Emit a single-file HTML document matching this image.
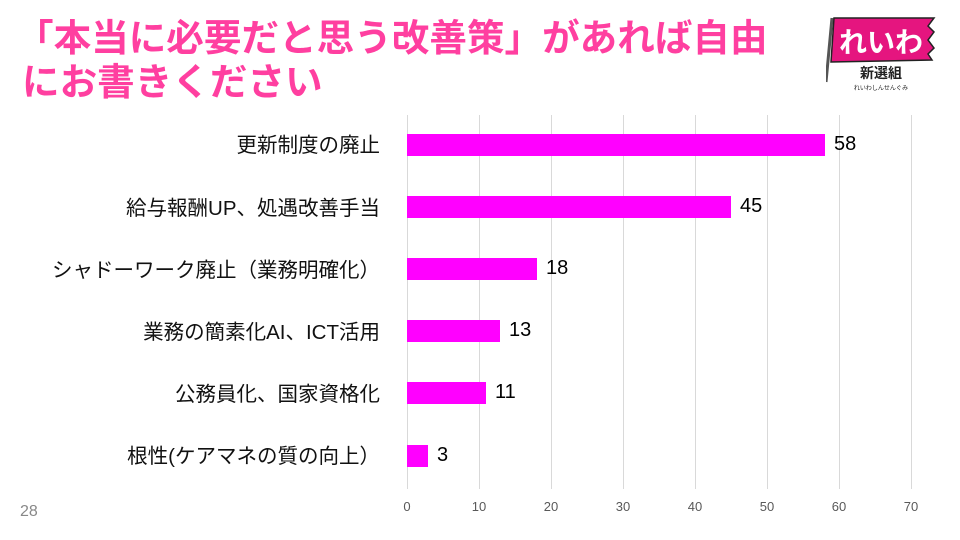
<!DOCTYPE html>
<html><head><meta charset="utf-8"><style>
body{margin:0;width:960px;height:540px;background:#fff;overflow:hidden;position:relative;font-family:"Liberation Sans","Noto Sans CJK JP",sans-serif}
.t{position:absolute;left:22px;color:#ff3fa0;font-weight:bold;font-size:37.6px;line-height:44px;white-space:nowrap}
.lab{position:absolute;right:580px;font-size:20.5px;color:#111;white-space:nowrap}
.bar{position:absolute;left:407px;height:22px;background:#ff00ff}
.v{position:absolute;font-size:20px;color:#000}
.g{position:absolute;top:115px;height:374px;width:1px;background:#d9d9d9}
.tk{position:absolute;top:499px;font-size:13px;color:#595959;width:30px;margin-left:-15px;text-align:center}
</style></head><body>
<div class="t" style="top:16px;left:16px">「本当に必要だと思う改善策」があれば自由</div>
<div class="t" style="top:60px">にお書きください</div>
<svg style="position:absolute;left:826px;top:12px" width="120" height="82">
<line x1="6" y1="6" x2="0" y2="70" stroke="#555" stroke-width="3"/>
<polygon points="8,6 108,6 102,14 108,20 102,28 108,36 102,42 106,48 5,50" fill="#e5157f" stroke="#222" stroke-width="1.5"/>
<text x="55" y="40" font-size="28" font-weight="bold" fill="#fff" text-anchor="middle" font-family="Noto Sans CJK JP">れいわ</text>
<text x="55" y="66" font-size="14" font-weight="bold" fill="#222" text-anchor="middle" font-family="Noto Sans CJK JP">新選組</text>
<text x="55" y="78" font-size="6" fill="#222" text-anchor="middle" font-family="Noto Sans CJK JP">れいわしんせんぐみ</text>
</svg>
<div class="g" style="left:407px"></div><div class="g" style="left:479px"></div><div class="g" style="left:551px"></div><div class="g" style="left:623px"></div><div class="g" style="left:695px"></div><div class="g" style="left:767px"></div><div class="g" style="left:839px"></div><div class="g" style="left:911px"></div>
<div class="tk" style="left:407px">0</div><div class="tk" style="left:479px">10</div><div class="tk" style="left:551px">20</div><div class="tk" style="left:623px">30</div><div class="tk" style="left:695px">40</div><div class="tk" style="left:767px">50</div><div class="tk" style="left:839px">60</div><div class="tk" style="left:911px">70</div>
<div class="lab" style="top:128px">更新制度の廃止</div>
<div class="lab" style="top:191px">給与報酬UP、処遇改善手当</div>
<div class="lab" style="top:253px">シャドーワーク廃止（業務明確化）</div>
<div class="lab" style="top:315px">業務の簡素化AI、ICT活用</div>
<div class="lab" style="top:377px">公務員化、国家資格化</div>
<div class="lab" style="top:439px">根性(ケアマネの質の向上）</div>
<div class="bar" style="top:134px;width:418px"></div><div class="v" style="left:834px;top:133px">58</div>
<div class="bar" style="top:196px;width:324px"></div><div class="v" style="left:740px;top:195px">45</div>
<div class="bar" style="top:258px;width:130px"></div><div class="v" style="left:546px;top:257px">18</div>
<div class="bar" style="top:320px;width:93px"></div><div class="v" style="left:509px;top:319px">13</div>
<div class="bar" style="top:382px;width:79px"></div><div class="v" style="left:495px;top:381px">11</div>
<div class="bar" style="top:445px;width:21px"></div><div class="v" style="left:437px;top:444px">3</div>
<div style="position:absolute;left:20px;top:503px;font-size:16px;color:#888">28</div>
</body></html>
